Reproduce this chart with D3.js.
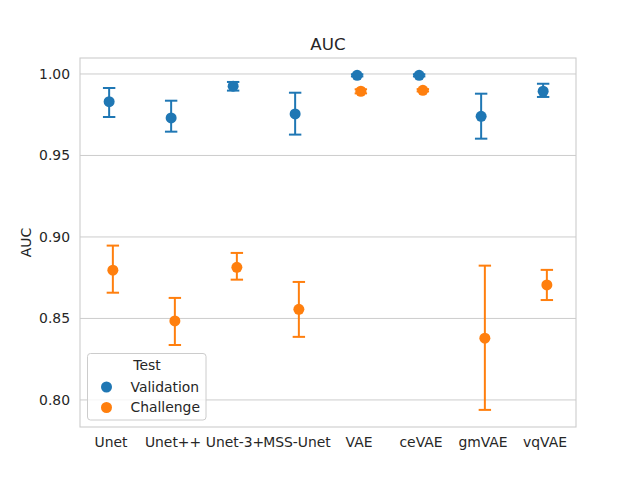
<!DOCTYPE html>
<html>
<head>
<meta charset="utf-8">
<script src="https://cdn.jsdelivr.net/npm/d3@7"></script>
<style>
  body { margin: 0; background: #fff; }
  text { font-family: 'DejaVu Sans', sans-serif; fill: #262626; }
</style>
</head>
<body>
<div id="chart-area"></div>
<script>
const models = ['Unet', 'Unet++', 'Unet-3+', 'MSS-Unet', 'VAE', 'ceVAE', 'gmVAE', 'vqVAE'];
const groups = ['Validation', 'Challenge'];

const validationMean = [0.983, 0.973, 0.9925, 0.9755, 0.9992, 0.9992, 0.974, 0.9894];
const validationLow = [0.9736, 0.9646, 0.9898, 0.9628, 0.9985, 0.9985, 0.9603, 0.9859];
const validationHigh = [0.9914, 0.9836, 0.9951, 0.9885, 0.9998, 0.9998, 0.9879, 0.994];

const challengeMean = [0.8796, 0.8485, 0.8814, 0.8556, 0.9894, 0.990, 0.8379, 0.8706];
const challengeLow = [0.8658, 0.8337, 0.8738, 0.8387, 0.9881, 0.9893, 0.7939, 0.8613];
const challengeHigh = [0.8947, 0.8626, 0.8902, 0.8724, 0.9906, 0.9907, 0.8824, 0.8798];

const yTicks = [0.80, 0.85, 0.90, 0.95, 1.00];

const colors = ['#1f77b4', '#ff7f0e'];

let width = 640;
let height = 480;
let margin = { left: 80, right: 64, top: 58, bottom: 53 };

let svg = d3
  .select('#chart-area')
  .append('svg')
  .attr('width', width)
  .attr('height', height);

let x = d3
  .scaleBand()
  .domain(models)
  .range([margin.left, width - margin.right]);

let y = d3
  .scaleLinear()
  .domain([0.7834, 1.0098])
  .range([height - margin.bottom, margin.top]);

//grid lines
svg
  .append('g')
  .selectAll('line')
  .data(yTicks)
  .enter()
  .append('line')
  .attr('x1', margin.left)
  .attr('x2', width - margin.right)
  .attr('y1', (d) => y(d))
  .attr('y2', (d) => y(d))
  .style('stroke', '#cccccc')
  .style('stroke-width', 1);

//frame
svg
  .append('rect')
  .attr('x', margin.left)
  .attr('y', margin.top)
  .attr('width', width - margin.left - margin.right)
  .attr('height', height - margin.top - margin.bottom)
  .style('fill', 'none')
  .style('stroke', '#cccccc')
  .style('stroke-width', 1.1);

//axes
let yAxis = svg
  .append('g')
  .attr('transform', `translate(${margin.left},0)`)
  .call(d3.axisLeft(y).tickValues(yTicks).tickFormat(d3.format('.2f')).tickSize(0).tickPadding(10));
yAxis.select('.domain').remove();
yAxis.selectAll('text').style('font-size', '13.9px').style('fill', '#262626');

let xAxis = svg
  .append('g')
  .attr('transform', `translate(0,${height - margin.bottom})`)
  .call(d3.axisBottom(x).tickSize(0).tickPadding(10));
xAxis.select('.domain').remove();
xAxis.selectAll('text').style('font-size', '13.9px').style('fill', '#262626').attr('dy', '0.71em');

//title and label
svg
  .append('text')
  .attr('x', (margin.left + width - margin.right) / 2)
  .attr('y', 50)
  .attr('text-anchor', 'middle')
  .style('font-size', '16.7px')
  .text('AUC');

svg
  .append('text')
  .attr('transform', `translate(31,${(margin.top + height - margin.bottom) / 2}) rotate(-90)`)
  .attr('text-anchor', 'middle')
  .style('font-size', '13.9px')
  .text('AUC');

let series = [
  { name: groups[0], mean: validationMean, low: validationLow, high: validationHigh },
  { name: groups[1], mean: challengeMean, low: challengeLow, high: challengeHigh },
];

let dodge = [-0.03, 0.03];
let capHalf = x.bandwidth() * 0.1;

series.forEach((s, i) => {
  let cx = (j) => x(models[j]) + x.bandwidth() * (0.5 + dodge[i]);
  let g = svg.append('g').style('stroke', colors[i]).style('fill', colors[i]);
  let idx = d3.range(models.length);

  g.selectAll('.err')
    .data(idx)
    .enter()
    .append('line')
    .attr('x1', cx)
    .attr('x2', cx)
    .attr('y1', (j) => y(s.low[j]))
    .attr('y2', (j) => y(s.high[j]))
    .style('stroke-width', 2);

  ['low', 'high'].forEach((k) => {
    g.selectAll('.cap-' + k)
      .data(idx)
      .enter()
      .append('line')
      .attr('x1', (j) => cx(j) - capHalf)
      .attr('x2', (j) => cx(j) + capHalf)
      .attr('y1', (j) => y(s[k][j]))
      .attr('y2', (j) => y(s[k][j]))
      .style('stroke-width', 2);
  });

  g.selectAll('circle')
    .data(idx)
    .enter()
    .append('circle')
    .attr('cx', cx)
    .attr('cy', (j) => y(s.mean[j]))
    .attr('r', 5.5)
    .style('stroke', 'none');
});

//legend
let legend = svg.append('g').attr('transform', 'translate(87.5,353.5)');
legend
  .append('rect')
  .attr('width', 118.5)
  .attr('height', 66.5)
  .attr('rx', 3)
  .style('fill', 'rgba(255,255,255,0.8)')
  .style('stroke', '#cccccc');
legend
  .append('text')
  .attr('x', 59.5)
  .attr('y', 12)
  .attr('dy', '0.35em')
  .attr('text-anchor', 'middle')
  .style('font-size', '13.9px')
  .text('Test');

let item = legend
  .selectAll('.item')
  .data(groups)
  .enter()
  .append('g')
  .attr('transform', (d, i) => `translate(0,${33.5 + i * 20.5})`);
item
  .append('circle')
  .attr('cx', 19)
  .attr('r', 5.5)
  .style('fill', (d, i) => colors[i]);
item
  .append('text')
  .attr('x', 43)
  .attr('dy', '0.35em')
  .style('font-size', '13.9px')
  .text((d) => d);
</script>
</body>
</html>
